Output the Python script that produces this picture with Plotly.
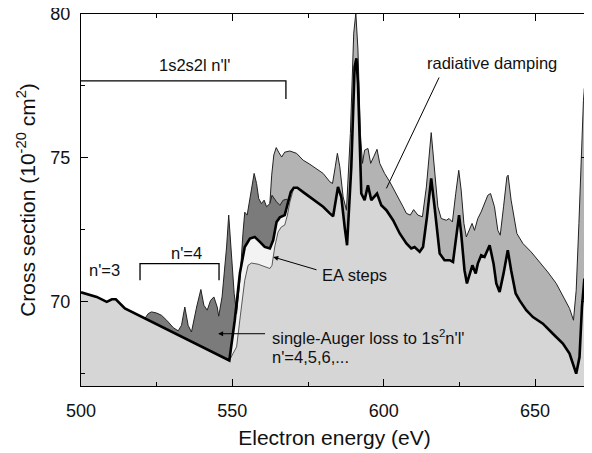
import plotly.graph_objects as go

# ---------------- data ----------------
# main result (thick black line)
main_x = [500.0, 505.2, 508.5, 510.2, 511.5, 512.5, 514.5, 549.0,
          550.8, 552.5, 554.1, 555.8, 557.4, 559.1, 560.7, 562.4, 563.5, 564.6,
          565.7, 567.3, 568.4, 569.3, 570.3, 571.5, 573.4, 575.6, 577.8, 580.0,
          582.2, 583.3, 584.9, 586.0, 587.1, 587.9, 589.3, 590.4, 591.0, 591.5,
          592.6, 593.7, 594.8, 595.9, 597.8, 599.2, 600.9, 603.1, 605.3, 607.5,
          609.1, 610.2, 611.9, 613.0, 614.3, 615.7, 616.8, 617.9, 618.5, 620.1,
          621.8, 622.9, 624.0, 624.9, 625.6, 626.7, 627.5, 628.4, 629.3, 630.4,
          631.1, 632.2, 633.3, 635.0, 636.3, 637.2, 638.3, 639.6, 641.0, 642.1,
          643.6, 644.9, 647.1, 649.3, 652.6, 655.9, 659.2, 661.4, 663.0, 663.6,
          664.7, 665.5, 666.3, 667.1, 667.5]
main_y = [70.31, 70.15, 69.98, 70.07, 70.07, 69.97, 69.75, 67.94,
          69.34, 70.98, 71.89, 72.18, 72.24, 72.07, 71.89, 71.84, 72.13, 72.76,
          72.92, 73.00, 73.40, 73.80, 73.95, 73.95, 73.80, 73.63, 73.46, 73.29,
          73.06, 72.96, 73.98, 73.63, 72.59, 71.95, 74.68, 78.16, 78.46, 77.59,
          73.75, 73.52, 74.04, 73.52, 73.75, 73.34, 73.17, 72.82, 72.36, 72.01,
          71.84, 71.89, 71.72, 71.89, 72.94, 74.28, 73.29, 72.36, 71.66, 71.43,
          71.43, 71.37, 72.24, 73.00, 72.36, 71.08, 70.62, 70.97, 71.25, 70.97,
          71.31, 71.60, 71.54, 71.95, 71.31, 70.62, 70.32, 70.97, 71.78, 71.08,
          70.27, 70.03, 69.69, 69.45, 69.22, 68.87, 68.53, 68.18, 67.71, 67.48,
          68.06, 69.80, 70.79, 70.38, 70.20]

# curve without the EA steps (thin line)
ea_x = [549.0, 551.4, 553.0, 554.1, 555.2, 556.3, 558.5, 560.7, 562.4, 563.1,
        564.0, 565.1, 566.2, 567.3, 568.2, 569.0, 570.3]
ea_y = [67.94, 68.41, 69.80, 70.73, 71.25, 71.33, 71.29, 71.22, 71.14, 71.25,
        71.89, 72.41, 72.59, 72.65, 73.00, 73.45, 73.95]

# single-Auger loss contribution (top of dark band)
auger_x = [521.1, 522.2, 523.3, 525.0, 526.6, 528.3, 530.5, 532.1, 533.2, 534.3,
           535.4, 536.5, 538.2, 539.6, 540.6, 541.7, 542.8, 543.9, 545.0, 545.5,
           546.6, 548.1, 548.8, 549.7, 550.6, 551.4, 552.5, 553.5, 554.1, 554.9,
           556.1, 557.2, 558.0, 558.7, 559.6, 560.5, 561.3, 562.4, 563.1, 563.8,
           564.6, 565.7, 566.8, 568.0, 568.6]
auger_y = [69.40, 69.57, 69.63, 69.59, 69.51, 69.34, 69.08, 68.97, 69.16, 69.80,
           69.16, 68.93, 69.80, 70.41, 69.86, 69.69, 70.03, 70.15, 69.80, 69.48,
           70.15, 71.89, 73.00, 71.78, 70.27, 69.57, 70.73, 72.36, 73.10, 73.00,
           73.69, 74.45, 74.10, 73.58, 73.40, 73.52, 73.29, 73.40, 73.69, 73.58,
           73.46, 73.34, 73.52, 73.55, 73.49]

# radiative damping contribution (top of medium band)
rad_x = [562.4, 563.0, 563.7, 564.5, 565.3, 566.3, 567.3, 569.0, 571.2, 573.4,
         575.6, 577.8, 580.0, 582.2, 583.1, 584.0, 584.7, 585.5, 586.6, 587.7,
         589.0, 590.1, 590.8, 591.5, 592.3, 593.0, 593.7, 594.8, 595.7, 596.7,
         597.8, 598.7, 600.3, 602.0, 604.2, 606.4, 607.5, 608.8, 609.9, 611.3,
         612.8, 614.1, 615.7, 616.8, 617.9, 619.0, 620.7, 621.6, 622.7, 623.8,
         624.8, 625.6, 626.5, 627.3, 628.2, 629.2, 630.0, 631.1, 632.2, 633.3,
         634.4, 635.3, 636.6, 637.7, 638.5, 639.6, 640.7, 641.1, 642.1, 644.0,
         646.0, 648.7, 651.5, 654.2, 657.0, 659.7, 661.4, 662.7, 663.6, 664.5,
         665.2, 666.0, 666.3, 667.0, 667.5]
rad_y = [73.41, 74.39, 75.09, 75.35, 75.19, 75.02, 75.19, 75.23, 75.15, 74.91,
         74.77, 74.62, 74.45, 74.16, 74.10, 74.68, 75.15, 74.68, 73.63, 73.17,
         75.84, 79.33, 80.03, 78.75, 75.84, 74.80, 75.26, 75.32, 74.80, 75.03,
         75.29, 74.80, 74.45, 74.16, 73.75, 73.29, 73.06, 73.00, 73.19, 73.00,
         72.94, 73.98, 75.87, 74.60, 73.29, 72.88, 72.82, 72.88, 72.76, 73.75,
         74.56, 73.87, 72.71, 72.24, 72.47, 72.71, 72.47, 72.88, 73.11, 73.40,
         73.69, 73.75, 73.29, 72.47, 72.30, 73.29, 74.33, 74.39, 73.52, 72.36,
         72.01, 71.72, 71.37, 71.02, 70.62, 70.09, 69.75, 69.34, 70.38, 72.71,
         75.03, 77.00, 77.41, 76.00, 74.50]

x_ticks = [500, 550, 600, 650]
y_ticks = [70, 75, 80]

LIGHT = "#d6d6d6"
PALE = "#f3f3f3"
MEDIUM = "#b3b3b3"
DARK = "#7b7b7b"
FONT = "Liberation Sans, Arial, Helvetica, sans-serif"


def seg(lo, hi):
    xs = [x for x in main_x if lo <= x <= hi]
    ys = [y for x, y in zip(main_x, main_y) if lo <= x <= hi]
    return xs, ys


fig = go.Figure()
nolabel = dict(hoverinfo="skip", showlegend=False)

# light gray area below the main curve
fig.add_trace(go.Scatter(x=main_x, y=main_y, mode="lines", line=dict(width=0),
                         fill="tozeroy", fillcolor=LIGHT, **nolabel))
# pale band: EA steps
fig.add_trace(go.Scatter(x=ea_x, y=ea_y, mode="lines", line=dict(width=0), **nolabel))
sx, sy = seg(549.0, 570.3)
fig.add_trace(go.Scatter(x=sx, y=sy, mode="lines", line=dict(width=0),
                         fill="tonexty", fillcolor=PALE, **nolabel))
# medium band: radiative damping
sx, sy = seg(562.4, 667.5)
fig.add_trace(go.Scatter(x=sx, y=sy, mode="lines", line=dict(width=0), **nolabel))
fig.add_trace(go.Scatter(x=rad_x, y=rad_y, mode="lines", line=dict(width=0),
                         fill="tonexty", fillcolor=MEDIUM, **nolabel))
# dark band: single-Auger loss
sx, sy = seg(521.0, 568.5)
fig.add_trace(go.Scatter(x=sx, y=sy, mode="lines", line=dict(width=0), **nolabel))
fig.add_trace(go.Scatter(x=auger_x, y=auger_y, mode="lines", line=dict(width=0),
                         fill="tonexty", fillcolor=DARK, **nolabel))

# outlines
fig.add_trace(go.Scatter(x=rad_x, y=rad_y, mode="lines",
                         line=dict(color="#222222", width=1), **nolabel))
fig.add_trace(go.Scatter(x=auger_x, y=auger_y, mode="lines",
                         line=dict(color="#222222", width=1), **nolabel))
fig.add_trace(go.Scatter(x=ea_x, y=ea_y, mode="lines",
                         line=dict(color="#333333", width=0.8), **nolabel))
fig.add_trace(go.Scatter(x=main_x, y=main_y, mode="lines",
                         line=dict(color="black", width=2.6), **nolabel))

# brackets
line_k = dict(color="black", width=1.3)
fig.add_shape(type="path", xref="x", yref="y",
              path="M 500,77.67 L 567.7,77.67 L 567.7,77.04", line=line_k)
fig.add_shape(type="path", xref="x", yref="y",
              path="M 519.5,70.73 L 519.5,71.31 L 545.6,71.31 L 545.6,70.73", line=line_k)
# pointer for radiative damping
fig.add_shape(type="line", xref="x", yref="y", x0=618.3, y0=77.79, x1=600.9, y1=73.93,
              line=dict(color="black", width=1))

tf = dict(family=FONT, size=16.5, color="#111111")
ann = [
    dict(x=537.5, y=78.22, text="1s2s2l n'l'", xanchor="center"),
    dict(x=507.9, y=71.08, text="n'=3", xanchor="center"),
    dict(x=534.7, y=71.67, text="n'=4", xanchor="center"),
    dict(x=635.8, y=78.30, text="radiative damping", xanchor="center"),
    dict(x=579.0, y=70.91, text="EA steps", xanchor="left"),
    dict(x=562.4, y=68.76, text="single-Auger loss to 1s<sup>2</sup>n'l'", xanchor="left"),
    dict(x=562.4, y=68.06, text="n'=4,5,6,...", xanchor="left"),
]
for a in ann:
    fig.add_annotation(xref="x", yref="y", yanchor="middle", showarrow=False,
                       font=tf, **a)
# arrows
fig.add_annotation(xref="x", yref="y", axref="x", ayref="y", x=563.5, y=71.54,
                   ax=578.3, ay=71.08, text="", showarrow=True, arrowhead=2,
                   arrowsize=1, arrowwidth=1, arrowcolor="black")
fig.add_annotation(xref="x", yref="y", axref="x", ayref="y", x=545.3, y=68.87,
                   ax=561.3, ay=68.87, text="", showarrow=True, arrowhead=2,
                   arrowsize=1, arrowwidth=1, arrowcolor="black")

axis_common = dict(showline=True, linecolor="black", linewidth=1.4, mirror="ticks",
                   ticks="inside", ticklen=7, tickwidth=1.2, tickcolor="black",
                   showgrid=False, zeroline=False, automargin=False,
                   ticklabeloverflow="allow",
                   tickfont=dict(family=FONT, size=18, color="#111111"))
fig.update_xaxes(range=[500, 667.5], tickvals=x_ticks,
                 minor=dict(dtick=25, tick0=500, ticks="inside", ticklen=4,
                            tickwidth=1.2, tickcolor="black", showgrid=False),
                 title=dict(text="Electron energy (eV)",
                            font=dict(family=FONT, size=21, color="#111111"), standoff=10),
                 ticklabelstandoff=8, **axis_common)
fig.update_yaxes(range=[67.05, 80], tickvals=y_ticks,
                 minor=dict(dtick=2.5, tick0=67.5, ticks="inside", ticklen=4,
                            tickwidth=1.2, tickcolor="black", showgrid=False),
                 title=dict(text="Cross section (10<sup>-20</sup> cm<sup>2</sup>)",
                            font=dict(family=FONT, size=21, color="#111111"), standoff=8),
                 ticklabelstandoff=6, **axis_common)

# the page places the figure 8 px in from the top-left corner
fig.update_layout(width=584, height=445, margin=dict(l=73, r=4, t=6, b=67),
                  plot_bgcolor="white", paper_bgcolor="white",
                  font=dict(family=FONT))
fig.write_html("out.html")
